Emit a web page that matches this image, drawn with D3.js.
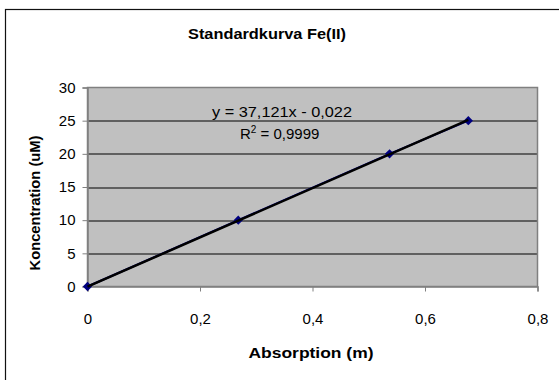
<!DOCTYPE html>
<html>
<head>
<meta charset="utf-8">
<script src="https://cdn.jsdelivr.net/npm/d3@7"></script>
<style>
  body { margin: 0; background: #fff; }
  text { font-family: "Liberation Sans", Arial, sans-serif; }
</style>
</head>
<body>
<div class="chart"></div>
<script>
// data
const absorption = [0, 0.268, 0.537, 0.677];
const concentration = [0, 10, 20, 25];
const xTicks = [0, 0.2, 0.4, 0.6, 0.8];
const yTicks = [0, 5, 10, 15, 20, 25, 30];
const slope = 37.121;
const intercept = -0.022;

const outerWidth = 559;
const outerHeight = 380;
const margin = {top: 87.5, left: 87.5, bottom: 93.5, right: 21.5};
const width = outerWidth - margin.left - margin.right;
const height = outerHeight - margin.top - margin.bottom;

const root = d3.select(".chart")
    .append("svg")
    .attr("width", outerWidth)
    .attr("height", outerHeight);

// chart border (runs off the picture on the right and bottom)
root.append("rect")
    .attr("x", 5.5).attr("y", 9.5)
    .attr("width", 600).attr("height", 400)
    .attr("fill", "none")
    .attr("stroke", "#111")
    .attr("stroke-width", 1.2);

root.append("text")
    .attr("x", 267).attr("y", 39)
    .attr("text-anchor", "middle")
    .attr("font-size", 14.5).attr("font-weight", "bold")
    .attr("textLength", 158).attr("lengthAdjust", "spacingAndGlyphs")
    .text("Standardkurva Fe(II)");

const svg = root.append("g")
    .attr("transform", `translate(${margin.left}, ${margin.top})`);

const xScale = d3.scaleLinear().domain([0, 0.8]).range([0, width]);
const yScale = d3.scaleLinear().domain([0, 30]).range([height, 0]);

svg.append("rect")
    .attr("width", width).attr("height", height)
    .attr("fill", "#c0c0c0");

// gridlines
svg.append("g")
    .selectAll("line")
    .data(yTicks.filter(d => d > 0 && d < 30))
    .join("line")
    .attr("x1", 0).attr("x2", width)
    .attr("y1", d => Math.round(yScale(d)) + 0.5)
    .attr("y2", d => Math.round(yScale(d)) + 0.5)
    .attr("stroke", "#000");

svg.append("rect")
    .attr("width", width).attr("height", height)
    .attr("fill", "none")
    .attr("stroke", "#808080")
    .attr("stroke-width", 1.5);

const fmt = d => String(d).replace(".", ",");

const xAxis = d3.axisBottom(xScale).tickValues(xTicks).tickSize(5).tickPadding(22).tickFormat(fmt);
const yAxis = d3.axisLeft(yScale).tickValues(yTicks).tickSize(5).tickPadding(7).tickFormat(fmt);

svg.append("g")
    .attr("class", "axis-x-axis")
    .attr("transform", `translate(0, ${height})`)
    .call(xAxis);

svg.append("g")
    .attr("class", "axis-y-axis")
    .call(yAxis);

svg.selectAll(".domain").attr("stroke", "#808080").attr("stroke-width", 1.5);
svg.selectAll(".tick line").attr("stroke", "#808080");
svg.selectAll(".tick text")
    .attr("font-family", "Liberation Sans, Arial, sans-serif")
    .attr("font-size", 15)
    .attr("fill", "#000");

// series line + markers
const pts = absorption.map((a, i) => ({x: a, y: concentration[i]}));

svg.append("path")
    .datum(pts)
    .attr("fill", "none")
    .attr("stroke", "#000080")
    .attr("stroke-width", 2)
    .attr("d", d3.line().x(d => xScale(d.x)).y(d => yScale(d.y)));

svg.selectAll(".marker")
    .data(pts)
    .join("path")
    .attr("class", "marker")
    .attr("transform", d => `translate(${xScale(d.x)}, ${yScale(d.y)})`)
    .attr("d", d3.symbol(d3.symbolDiamond2, 55))
    .attr("fill", "#000080");

// linear trendline
const xMax = d3.max(absorption);
svg.append("line")
    .attr("x1", xScale(0)).attr("y1", yScale(intercept))
    .attr("x2", xScale(xMax)).attr("y2", yScale(slope * xMax + intercept))
    .attr("stroke", "#000")
    .attr("stroke-width", 2.5);

// equation labels
root.append("text")
    .attr("x", 212).attr("y", 117)
    .attr("font-size", 15)
    .attr("textLength", 140).attr("lengthAdjust", "spacingAndGlyphs")
    .text("y = 37,121x - 0,022");

const r2 = root.append("text")
    .attr("x", 240).attr("y", 139)
    .attr("font-size", 15);
r2.append("tspan").text("R");
r2.append("tspan").attr("dy", -6).attr("font-size", 10).text("2");
r2.append("tspan").attr("dy", 6).text(" = 0,9999");

// axis titles
root.append("text")
    .attr("x", 311).attr("y", 358)
    .attr("text-anchor", "middle")
    .attr("font-size", 14).attr("font-weight", "bold")
    .attr("textLength", 125).attr("lengthAdjust", "spacingAndGlyphs")
    .text("Absorption (m)");

root.append("text")
    .attr("transform", "translate(40, 203) rotate(-90)")
    .attr("text-anchor", "middle")
    .attr("font-size", 14).attr("font-weight", "bold")
    .attr("textLength", 135).attr("lengthAdjust", "spacingAndGlyphs")
    .text("Koncentration (uM)");
</script>
</body>
</html>
